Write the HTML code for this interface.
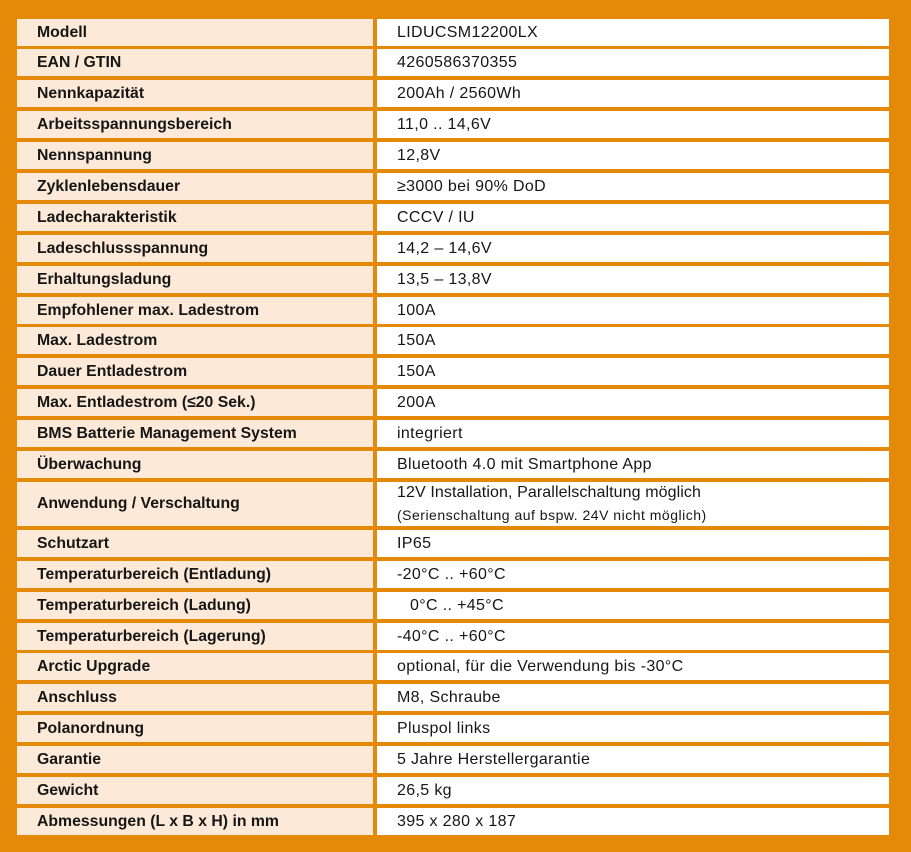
<!DOCTYPE html>
<html>
<head>
<meta charset="utf-8">
<style>
  html, body { margin: 0; padding: 0; }
  body {
    width: 911px; height: 852px; overflow: hidden;
    background: #E48A08;
    font-family: "Liberation Sans", "DejaVu Sans", sans-serif;
    color: #161616;
  }
  .wrap {
    position: absolute; left: 17px; top: 18.5px; width: 872px;
    display: flex; flex-direction: column; gap: 3.9px;
  }
  .row { display: flex; height: 27px; gap: 4px; }
  .row.dbl { height: 44.1px; }
  .l {
    width: 356px; background: #FCE9D8;
    font-weight: bold; font-size: 15.8px;
    display: flex; align-items: center; padding-left: 20px; padding-top: 1px; box-sizing: border-box;
    white-space: nowrap;
  }
  .r {
    width: 512px; background: #FFFFFF;
    font-size: 16px; letter-spacing: 0.35px;
    display: flex; align-items: center; padding-left: 20px; padding-top: 1px; box-sizing: border-box;
    white-space: nowrap;
  }
  .r.two { flex-direction: column; align-items: flex-start; justify-content: flex-start; padding-top: 0; }
  .r.two .a { line-height: 22px; height: 22px; letter-spacing: 0.1px; }
  .r.two .b { line-height: 22px; height: 22px; font-size: 14px; letter-spacing: 0.5px; }
</style>
</head>
<body>
<div class="wrap">
  <div class="row"><div class="l">Modell</div><div class="r">LIDUCSM12200LX</div></div>
  <div class="row"><div class="l">EAN / GTIN</div><div class="r">4260586370355</div></div>
  <div class="row"><div class="l">Nennkapazität</div><div class="r">200Ah / 2560Wh</div></div>
  <div class="row"><div class="l">Arbeitsspannungsbereich</div><div class="r">11,0 .. 14,6V</div></div>
  <div class="row"><div class="l">Nennspannung</div><div class="r">12,8V</div></div>
  <div class="row"><div class="l">Zyklenlebensdauer</div><div class="r">≥3000 bei 90% DoD</div></div>
  <div class="row"><div class="l">Ladecharakteristik</div><div class="r">CCCV / IU</div></div>
  <div class="row"><div class="l">Ladeschlussspannung</div><div class="r">14,2 – 14,6V</div></div>
  <div class="row"><div class="l">Erhaltungsladung</div><div class="r">13,5 – 13,8V</div></div>
  <div class="row"><div class="l">Empfohlener max. Ladestrom</div><div class="r">100A</div></div>
  <div class="row"><div class="l">Max. Ladestrom</div><div class="r">150A</div></div>
  <div class="row"><div class="l">Dauer Entladestrom</div><div class="r">150A</div></div>
  <div class="row"><div class="l">Max. Entladestrom (≤20 Sek.)</div><div class="r">200A</div></div>
  <div class="row"><div class="l">BMS Batterie Management System</div><div class="r">integriert</div></div>
  <div class="row"><div class="l">Überwachung</div><div class="r">Bluetooth 4.0 mit Smartphone App</div></div>
  <div class="row dbl"><div class="l">Anwendung / Verschaltung</div><div class="r two"><div class="a">12V Installation, Parallelschaltung möglich</div><div class="b">(Serienschaltung auf bspw. 24V nicht möglich)</div></div></div>
  <div class="row"><div class="l">Schutzart</div><div class="r">IP65</div></div>
  <div class="row"><div class="l">Temperaturbereich (Entladung)</div><div class="r">-20°C .. +60°C</div></div>
  <div class="row"><div class="l">Temperaturbereich (Ladung)</div><div class="r"><span style="padding-left:13px">0°C .. +45°C</span></div></div>
  <div class="row"><div class="l">Temperaturbereich (Lagerung)</div><div class="r">-40°C .. +60°C</div></div>
  <div class="row"><div class="l">Arctic Upgrade</div><div class="r">optional, für die Verwendung bis -30°C</div></div>
  <div class="row"><div class="l">Anschluss</div><div class="r">M8, Schraube</div></div>
  <div class="row"><div class="l">Polanordnung</div><div class="r">Pluspol links</div></div>
  <div class="row"><div class="l">Garantie</div><div class="r">5 Jahre Herstellergarantie</div></div>
  <div class="row"><div class="l">Gewicht</div><div class="r">26,5 kg</div></div>
  <div class="row"><div class="l">Abmessungen (L x B x H) in mm</div><div class="r">395 x 280 x 187</div></div>
</div>
</body>
</html>
